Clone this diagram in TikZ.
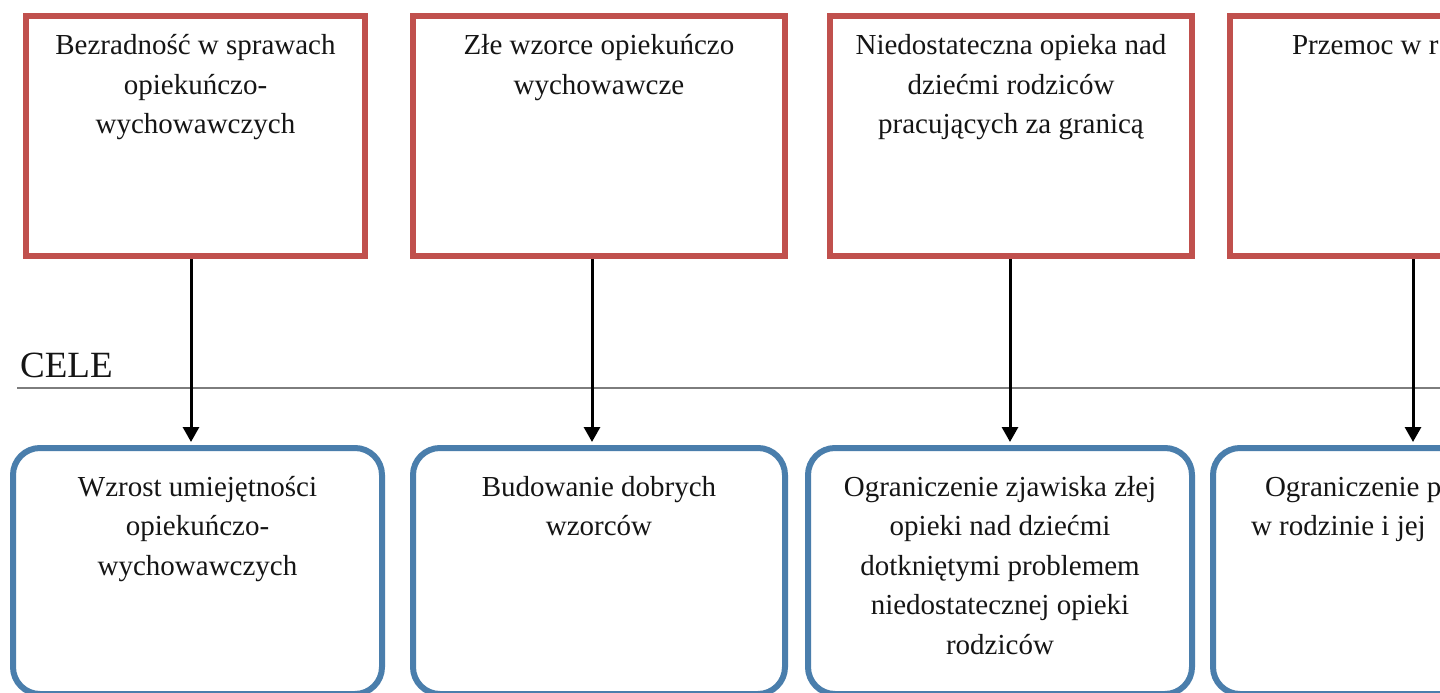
\documentclass[tikz,border=0pt]{standalone}
\usepackage{fontspec}
\setmainfont{Liberation Serif}
\usetikzlibrary{arrows.meta,calc}
\definecolor{redc}{HTML}{C0504D}
\definecolor{bluec}{RGB}{74,126,172}
\definecolor{txtc}{HTML}{151515}
\definecolor{linec}{RGB}{125,125,125}
\newcommand\boxtext[4]{\parbox[t][#1][t]{#2}{#3\strut #4}}
\tikzset{
  cause/.style={draw=redc, line width=6pt, rectangle, inner xsep=0pt, inner ysep=11.35pt,
    anchor=north, font=\fontsize{29}{39.5}\selectfont, text=txtc},
  goal/.style={draw=bluec, line width=6pt, rectangle, rounded corners=27pt, inner xsep=0pt,
    inner ysep=20.35pt, anchor=north, font=\fontsize{29}{39.5}\selectfont, text=txtc},
  arr/.style={line width=3pt, black, -{Triangle[width=16pt,length=15pt]}, shorten >=3pt},
  sepline/.style={draw=linec, line width=2pt}
}
\begin{document}
\begin{tikzpicture}[x=1pt,y=-1pt]
\useasboundingbox (0,0) rectangle (1440,693);
\fill[white] (0,0) rectangle (1440,693);
\clip (0,0) rectangle (1440,693);

% separator line and label
\coordinate (ls) at (17,388);
\coordinate (le) at (1440,388);
\draw[sepline] (ls) -- (le);
\node[anchor=base west, inner sep=0pt, font=\fontsize{37}{44}\selectfont, text=txtc] (cele) at (20,377) {CELE};

% problem boxes
\node[cause] (r1) at (195.5,13) {\boxtext{217.3pt}{339pt}{\centering}{Bezradność w sprawach\\ opiekuńczo-\\ wychowawczych}};
\node[cause] (r2) at (599,13) {\boxtext{217.3pt}{372pt}{\centering}{Złe wzorce opiekuńczo\\ wychowawcze}};
\node[cause] (r3) at (1011,13) {\boxtext{217.3pt}{362pt}{\centering}{Niedostateczna opieka nad\\ dziećmi rodziców\\ pracujących za granicą}};
\node[cause] (r4) at (1410,13) {\boxtext{217.3pt}{360pt}{\raggedright}{\hspace*{62pt}Przemoc w r}};

% goal boxes
\node[goal] (b1) at (197.5,445) {\boxtext{205.3pt}{369pt}{\centering}{Wzrost umiejętności\\ opiekuńczo-\\ wychowawczych}};
\node[goal] (b2) at (599,445) {\boxtext{205.3pt}{372pt}{\centering}{Budowanie dobrych\\ wzorców}};
\node[goal] (b3) at (1000,445) {\boxtext{205.3pt}{384pt}{\centering}{Ograniczenie zjawiska złej\\ opieki nad dziećmi\\ dotkniętymi problemem\\ niedostatecznej opieki\\ rodziców}};
\node[goal] (b4) at (1403,445) {\boxtext{205.3pt}{380pt}{\raggedright}{\hspace*{52pt}Ograniczenie p\\ \hspace*{38pt}w rodzinie i jej}};

% arrows
\draw[arr] ([xshift=-4.5pt]r1.south) -- ([xshift=-4.5pt]r1.south |- b1.north);
\draw[arr] ([xshift=-7pt]r2.south) -- ([xshift=-7pt]r2.south |- b2.north);
\draw[arr] ([xshift=-1pt]r3.south) -- ([xshift=-1pt]r3.south |- b3.north);
\draw[arr] ([xshift=3pt]r4.south) -- ([xshift=3pt]r4.south |- b4.north);
\end{tikzpicture}
\end{document}
